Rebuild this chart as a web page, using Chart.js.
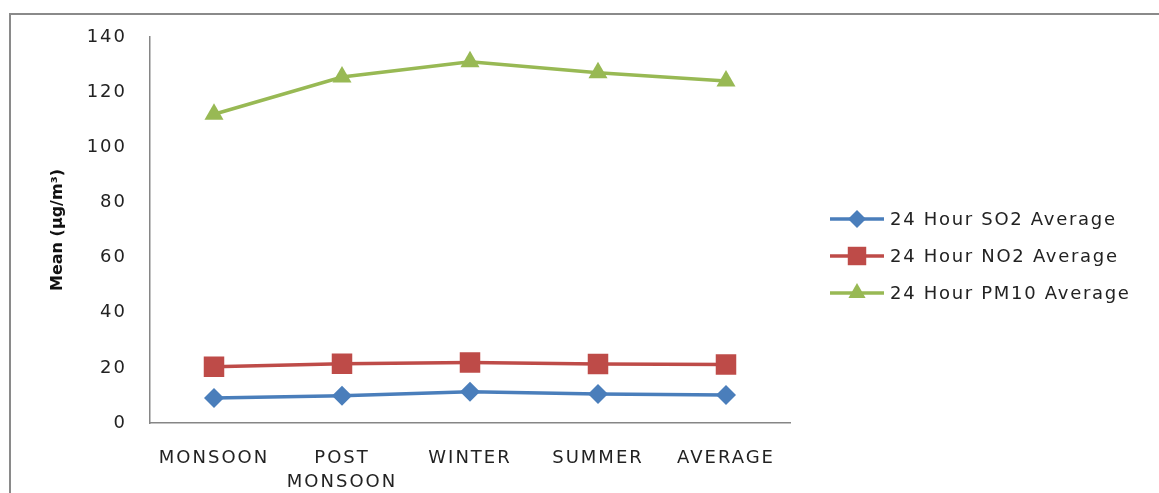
<!DOCTYPE html>
<html>
<head>
<meta charset="utf-8">
<script src="https://cdn.jsdelivr.net/npm/chart.js@4.4.1/dist/chart.umd.min.js"></script>
<style>
  html, body { margin: 0; padding: 0; background: #fff; overflow: hidden; }
  #wrap { position: relative; width: 1159px; height: 493px; overflow: hidden; }
  #frame {
    position: absolute; left: 9px; top: 13px; width: 1200px; height: 520px;
    border-top: 2px solid #8a8a8a; border-left: 2px solid #8a8a8a;
  }
  canvas { position: absolute; left: 0; top: 0; }
</style>
</head>
<body>
<div id="wrap">
  <div id="frame"></div>
  <canvas id="chart" width="1159" height="493"></canvas>
</div>
<script>
// seasons on the x axis
const seasons = ['MONSOON', ['POST', 'MONSOON'], 'WINTER', 'SUMMER', 'AVERAGE'];

// 24 hour averages, µg/m³
const so2Values = [9.1, 9.9, 11.3, 10.5, 10.2];
const no2Values = [20.4, 21.5, 21.9, 21.4, 21.2];
const pm10Values = [112, 125.5, 131, 127, 124];

const seriesLabels = ['24 Hour SO2 Average', '24 Hour NO2 Average', '24 Hour PM10 Average'];
const yTicks = [0, 20, 40, 60, 80, 100, 120, 140];

const FONT = 'DejaVu Sans';
const colors = ['#4a7ebb', '#be4b48', '#98b954'];
const markers = [
    { style: 'rectRot', radius: 10 },
    { style: 'rect', radius: 14.5 },
    { style: 'triangle', radius: 11 }
];

const spacing = {
    id: 'spacing',
    beforeUpdate(chart) { chart.ctx.letterSpacing = '2px'; },
    beforeDraw(chart) { chart.ctx.letterSpacing = '2px'; }
};

// y axis title and the legend on the right
const extras = {
    id: 'extras',
    afterDraw(chart) {
        const ctx = chart.ctx;
        const area = chart.chartArea;
        ctx.save();
        ctx.letterSpacing = '0px';
        ctx.fillStyle = '#111';
        ctx.font = 'bold 16px "' + FONT + '"';
        ctx.textAlign = 'center';
        ctx.textBaseline = 'middle';
        ctx.translate(58, (area.top + area.bottom) / 2);
        ctx.rotate(-Math.PI / 2);
        ctx.fillText('Mean (µg/m³)', 0, 0);
        ctx.restore();

        const rows = [219, 256, 293];
        chart.data.datasets.forEach((ds, i) => {
            const y = rows[i];
            ctx.save();
            ctx.strokeStyle = ds.borderColor;
            ctx.lineWidth = 3.5;
            ctx.beginPath();
            ctx.moveTo(830, y);
            ctx.lineTo(884, y);
            ctx.stroke();
            ctx.fillStyle = ds.backgroundColor;
            Chart.helpers.drawPoint(ctx, {
                pointStyle: ds.pointStyle,
                radius: ds.pointRadius * 0.9,
                borderWidth: 0
            }, 857, y);
            ctx.letterSpacing = '1.7px';
            ctx.fillStyle = '#222';
            ctx.font = '18px "' + FONT + '"';
            ctx.textAlign = 'left';
            ctx.textBaseline = 'middle';
            ctx.fillText(ds.label, 890, y + 1);
            ctx.restore();
        });
    }
};

const makeSet = (i, values) => ({
    label: seriesLabels[i],
    data: values,
    borderColor: colors[i],
    backgroundColor: colors[i],
    borderWidth: 3.5,
    pointStyle: markers[i].style,
    pointRadius: markers[i].radius,
    pointBorderWidth: 0,
    tension: 0
});

new Chart(document.getElementById('chart').getContext('2d'), {
    type: 'line',
    data: {
        labels: seasons,
        datasets: [
            makeSet(0, so2Values),
            makeSet(1, no2Values),
            makeSet(2, pm10Values)
        ]
    },
    options: {
        responsive: false,
        animation: false,
        events: [],
        layout: { padding: { top: 37, right: 369, bottom: 0, left: 0 } },
        plugins: {
            legend: { display: false },
            tooltip: { enabled: false }
        },
        scales: {
            x: {
                offset: true,
                grid: { display: false },
                border: { display: true, color: '#868686', width: 1.5 },
                ticks: {
                    color: '#222',
                    font: { family: FONT, size: 18, lineHeight: 1.33 },
                    padding: 15,
                    maxRotation: 0,
                    autoSkip: false
                },
                afterFit(scale) { scale.height = 70; }
            },
            y: {
                min: 0,
                max: 140,
                grid: { display: false },
                border: { display: true, color: '#868686', width: 1.5 },
                afterBuildTicks(scale) { scale.ticks = yTicks.map(v => ({ value: v })); },
                ticks: {
                    color: '#222',
                    font: { family: FONT, size: 18 },
                    padding: 15
                },
                afterFit(scale) { scale.width = 150; }
            }
        }
    },
    plugins: [spacing, extras]
});
</script>
</body>
</html>
